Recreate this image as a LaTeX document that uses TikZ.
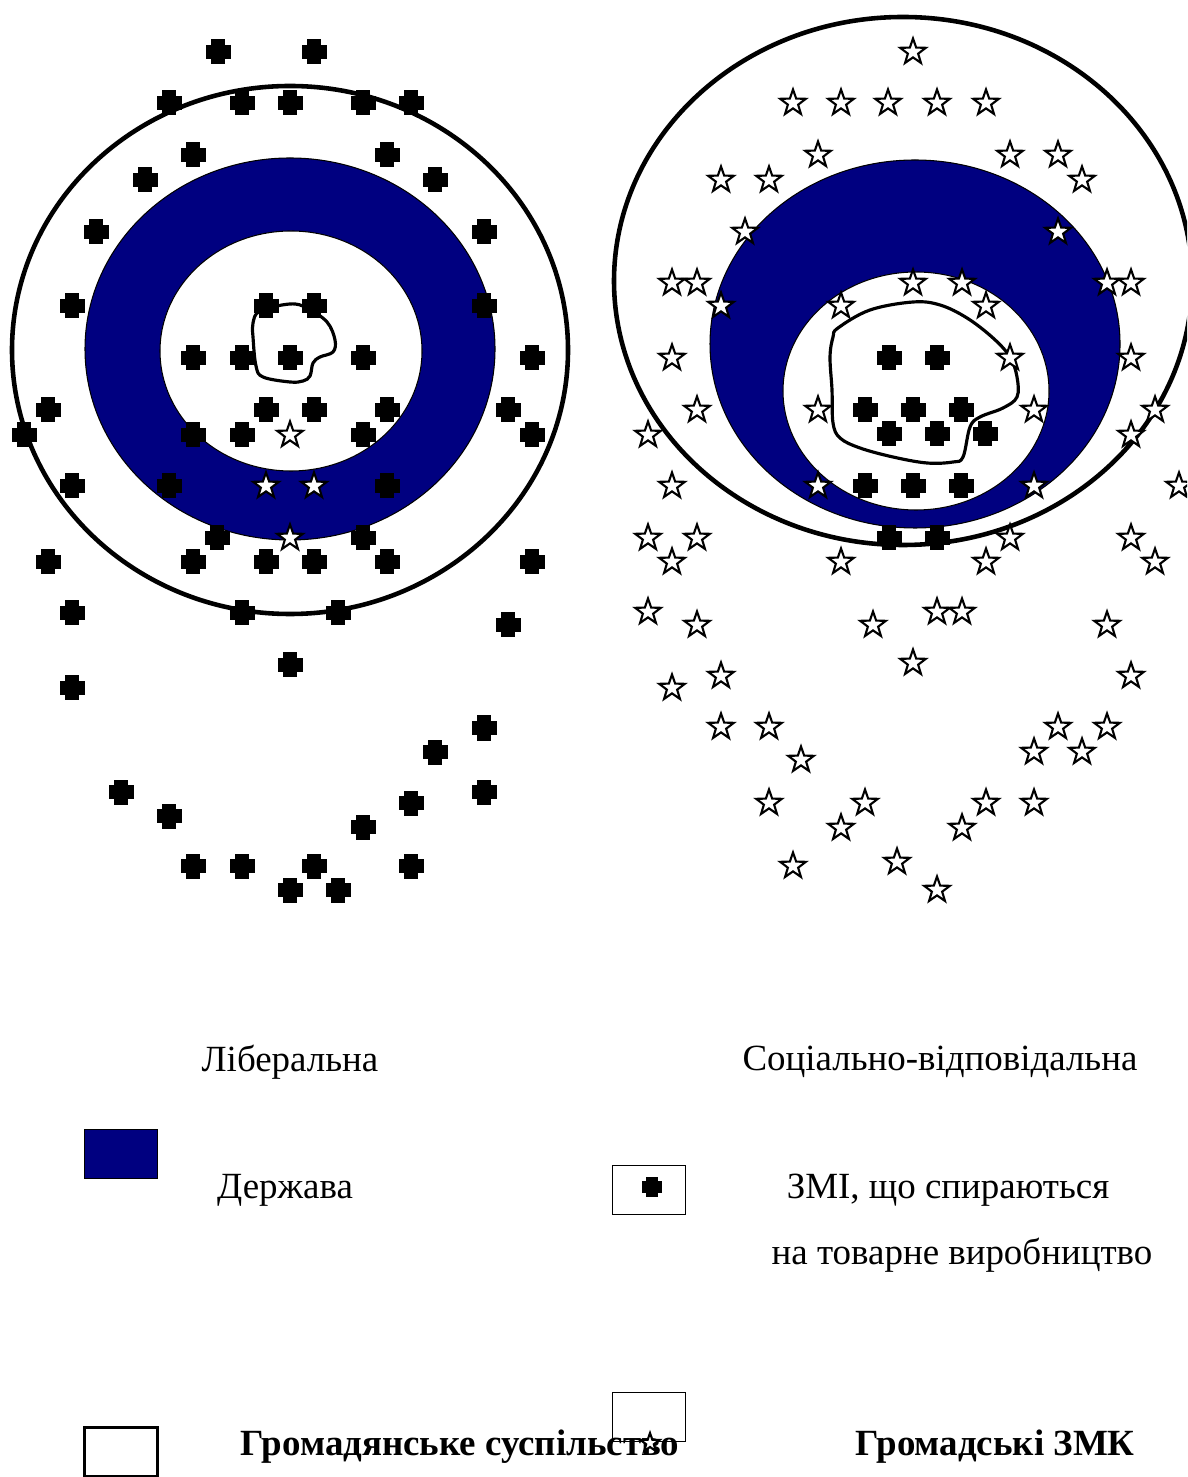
\documentclass[tikz,border=0pt]{standalone}
\usepackage{fontspec}
\setmainfont{Liberation Serif}
\usetikzlibrary{shapes.geometric}
\definecolor{derzh}{RGB}{0,0,128}
\tikzset{
kilce/.style={draw=black,line width=1.3pt},
derzh ring/.style={fill=derzh,draw=black,line width=0.3pt},
inner field/.style={fill=white,draw=black,line width=0.3pt},
blob/.style={draw=black,line width=0.9pt},
zmk star/.style={star,star points=5,star point ratio=2.5,draw=black,fill=white,line width=0.6pt,inner sep=0pt,minimum size=0.27cm},
legend box/.style={draw=black,line width=0.5pt,inner sep=0pt,minimum width=0.73cm,minimum height=0.49cm},
zmi dot/.pic={\fill (-12.5,-7) rectangle (12.5,7); \fill (-7,-12.5) rectangle (7,12.5);}}

\begin{document}
\begin{tikzpicture}[x=0.01cm,y=-0.01cm,font=\fontsize{10.5}{12.6}\selectfont]

\useasboundingbox (0,0) rectangle (1187,1477);
\clip (0,0) rectangle (1187,1477);

% liberal model
\draw[kilce] (290,350) ellipse [x radius=278, y radius=264];
\draw[derzh ring] (290,349) ellipse [x radius=205, y radius=191];
\draw[inner field] (291,351) ellipse [x radius=131, y radius=120];
\draw[blob] plot[smooth cycle,tension=0.6] coordinates {(253,323) (260,311) (290,304) (307,308) (327,322) (335,340) (333,352) (320,357) (313,363) (310,376) (303,381) (290,382) (263,377) (256,366) (253,337)};

\foreach \x/\y in {218/52,314/52,
  169/103,242/103,290/103,363/103,411/103,
  193/155,387/155,145/180,435/180,96/232,484/232,
  72/306,266/306,314/306,484/306,
  193/358,242/358,290/358,363/358,532/358,
  48/410,266/410,314/410,387/410,508/410,
  24/435,193/435,242/435,363/435,532/435,
  72/486,169/486,387/486,217/538,363/538,
  48/562,193/562,266/562,314/562,387/562,532/562,
  72/613,242/613,338/613,508/625,290/665,72/688,
  484/728,435/752,121/792,484/792,411/803,169/816,363/827,
  193/866,242/866,314/866,411/866,290/890,338/890}
  \pic at (\x,\y) {zmi dot};

\foreach \x/\y in {290/435,266/486,314/486,290/538}
  \node[zmk star] at (\x,\y) {};

% socially responsible model
\draw[kilce] (903,281) ellipse [x radius=289, y radius=264];
\draw[derzh ring] (915,344) ellipse [x radius=205, y radius=184];
\draw[inner field] (916,391) ellipse [x radius=133, y radius=119];
\draw[blob] plot[smooth cycle,tension=0.6] coordinates {(838,328) (870,310) (913,302) (940,305) (967,318) (993,338) (1010,357) (1017,377) (1017,397) (1003,408) (980,417) (970,427) (963,457) (953,462) (927,463) (893,457) (860,448) (840,438) (833,423) (832,390) (830,357) (833,337)};

\foreach \x/\y in {889/358,937/358,865/410,913/410,961/410,
  889/434,937/434,985/434,865/486,913/486,961/486,889/538,937/538}
  \pic at (\x,\y) {zmi dot};

\foreach \x/\y in {913/52,
  793/103,841/103,888/103,937/103,986/103,
  818/155,1010/155,1058/155,721/180,769/180,1082/180,
  745/232,1058/232,
  672/283,697/283,913/283,962/283,1107/283,1131/283,
  721/306,841/306,986/306,672/358,1010/358,1131/358,
  697/410,818/410,1034/410,1155/410,648/435,1131/435,
  672/486,818/486,1034/486,1179/486,
  648/538,697/538,1010/538,1131/538,
  672/562,841/562,986/562,1155/562,
  648/612,697/625,873/625,937/612,962/612,1107/625,
  913/663,721/676,672/688,1131/676,
  721/727,769/727,1058/727,1107/727,801/760,1034/752,1082/752,
  769/803,865/803,986/803,1034/803,841/828,962/828,
  793/866,897/862,937/890}
  \node[zmk star] at (\x,\y) {};

% legend
\node (lib) at (290,1062) {Ліберальна};
\node (soc) at (940,1062) {Соціально-відповідальна};

\node[legend box,fill=derzh] (b1) at (121,1154) {};
\node (derzh) at (285,1190) {Держава};

\node[legend box] (b2) at (649,1190) {};
\pic[scale=0.8] at (652,1187) {zmi dot};
\node (zmi1) at (948,1190) {ЗМІ, що спираються};
\node (zmi2) at (962,1255) {на товарне виробництво};

\node[legend box,line width=0.8pt] (b3) at (121,1452) {};
\node[font=\fontsize{10.5}{12.6}\selectfont\bfseries] (hrom) at (460,1447) {Громадянське суспільство};

\node[legend box] (b4) at (649,1417) {};
\node[zmk star,minimum size=0.2cm] at (650,1443) {};
\node[font=\fontsize{10.5}{12.6}\selectfont\bfseries] (zmk) at (995,1447) {Громадські ЗМК};

\end{tikzpicture}
\end{document}
